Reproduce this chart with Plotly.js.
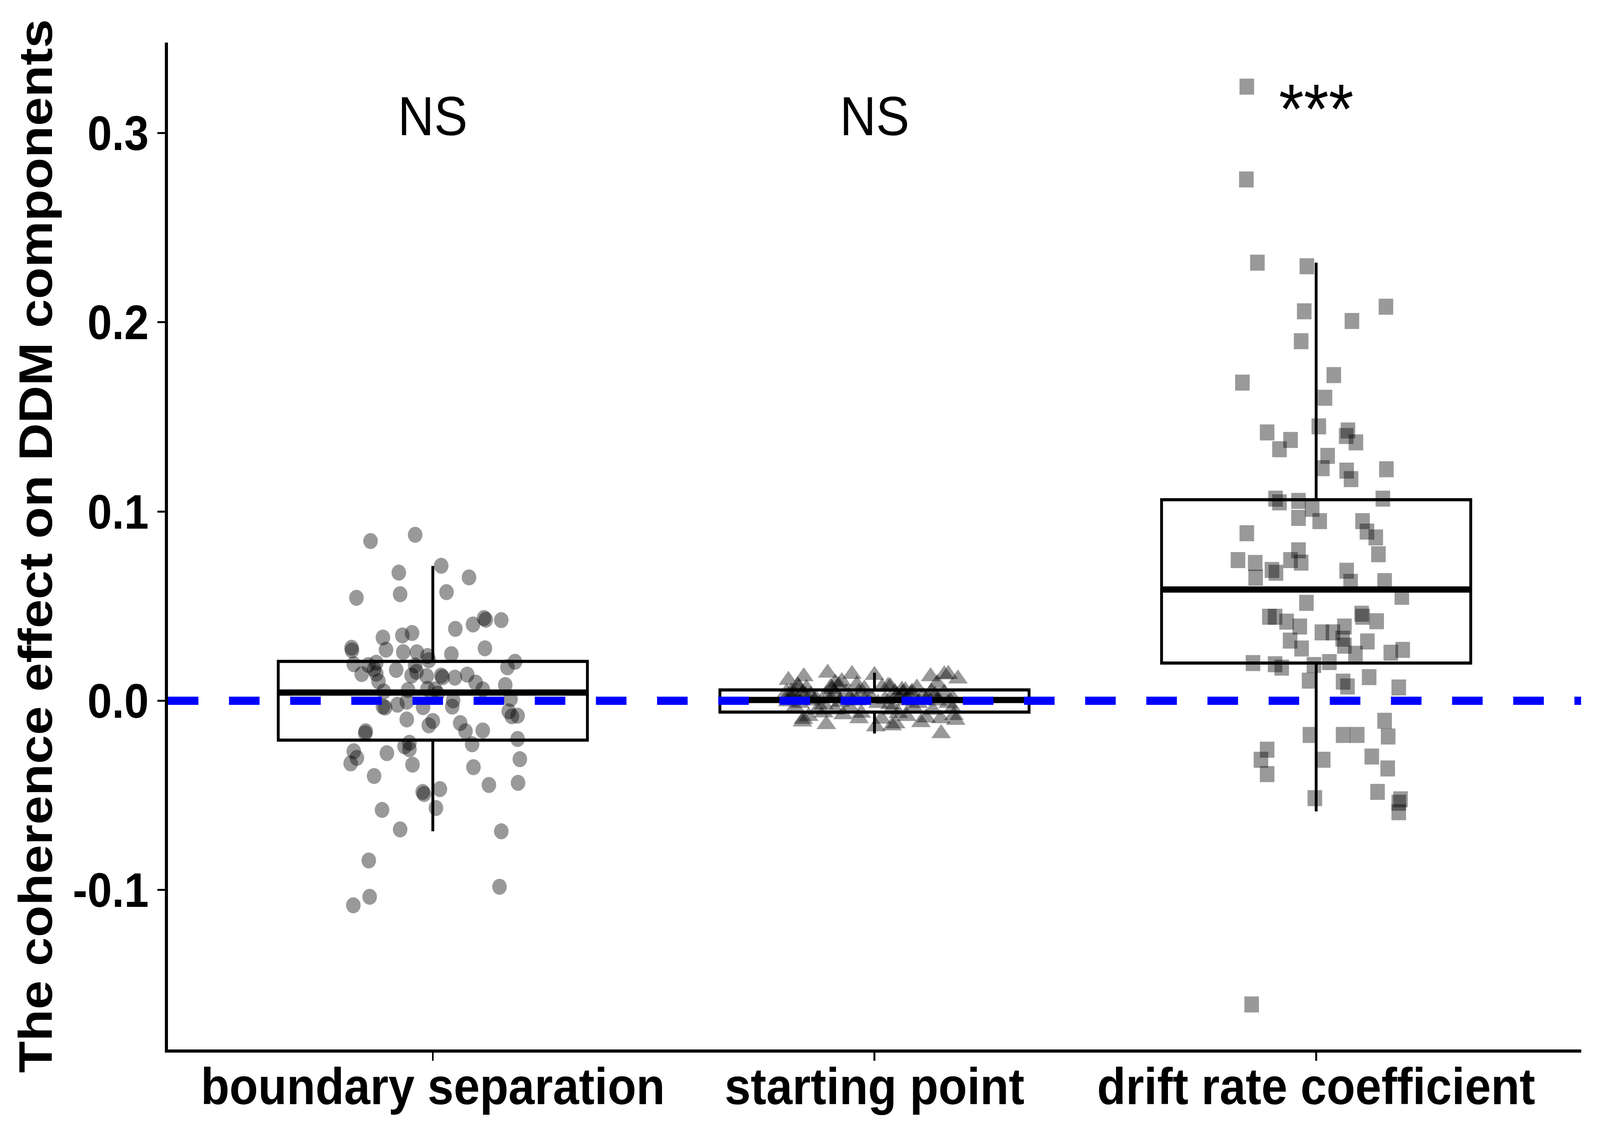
<!DOCTYPE html>
<html>
<head>
<meta charset="utf-8">
<script src="https://cdn.plot.ly/plotly-3.0.1.min.js"></script>
<style>
  html, body { margin: 0; padding: 0; background: #ffffff; overflow: hidden; }
  #chart { width: 4500px; height: 2910px; transform-origin: 0 0; }
</style>
</head>
<body>
<div id="chart"></div>
<script>
// ---------- data ----------
const categories = ["boundary separation", "starting point", "drift rate coefficient"];
const categoryPos = [1, 2, 3];

const yTickVals = [-0.1, 0.0, 0.1, 0.2, 0.3];
const yTickText = ["-0.1", "0.0", "0.1", "0.2", "0.3"];

// box statistics
const boxQ1     = [-0.0208, -0.0060, 0.0199];
const boxMedian = [ 0.0043,  0.0004, 0.0588];
const boxQ3     = [ 0.0208,  0.0057, 0.1062];
const boxLower  = [-0.0690, -0.0173, -0.0585];
const boxUpper  = [ 0.0712,  0.0148, 0.2315];

// significance labels
const sigLabels = ["NS", "NS", "***"];

// jittered individual points: boundary separation
const boundaryX = [0.859,0.960,1.019,0.923,1.082,0.827,0.926,1.031,1.116,1.120,
  1.155,1.091,1.051,0.887,0.931,0.953,0.816,0.817,0.894,0.933,
  0.964,0.988,0.991,1.042,1.118,1.186,1.169,0.821,0.854,0.872,
  0.867,0.872,0.839,0.877,0.917,0.960,0.963,0.952,0.986,1.019,
  1.022,1.050,1.078,1.097,1.113,1.164,0.889,0.944,0.988,1.005,
  1.011,1.176,1.046,0.941,0.920,0.887,0.892,0.978,1.044,1.172,
  1.179,1.192,1.000,0.991,0.941,1.062,1.074,1.113,0.848,0.847,
  1.192,0.947,0.936,0.947,1.089,0.821,0.828,0.814,0.896,0.954,
  1.092,1.197,0.867,1.127,1.193,0.977,0.980,1.016,1.007,0.885,
  0.926,1.155,0.855,1.151,0.857,0.820];
const boundaryY = [0.0844,0.0877,0.0713,0.0677,0.0652,0.0544,0.0563,0.0574,0.0437,0.0428,
  0.0426,0.0403,0.0380,0.0334,0.0345,0.0358,0.0280,0.0266,0.0270,0.0257,
  0.0256,0.0237,0.0214,0.0246,0.0277,0.0206,0.0177,0.0193,0.0189,0.0201,
  0.0167,0.0143,0.0141,0.0102,0.0163,0.0186,0.0153,0.0133,0.0130,0.0133,
  0.0124,0.0122,0.0138,0.0096,0.0060,0.0083,0.0049,0.0057,0.0063,0.0060,
  0.0037,0.0009,0.0002,-0.0005,-0.0021,-0.0031,-0.0036,-0.0034,-0.0031,-0.0056,
  -0.0082,-0.0079,-0.0107,-0.0130,-0.0099,-0.0118,-0.0161,-0.0157,-0.0161,-0.0172,
  -0.0202,-0.0222,-0.0241,-0.0256,-0.0230,-0.0267,-0.0302,-0.0331,-0.0277,-0.0338,
  -0.0351,-0.0309,-0.0398,-0.0445,-0.0434,-0.0482,-0.0493,-0.0467,-0.0567,-0.0577,
  -0.0680,-0.0690,-0.0844,-0.0983,-0.1036,-0.1081];

// starting point
const startX = [1.805,1.840,1.894,1.949,2.000,2.127,1.826,1.829,1.846,1.911,
  1.926,1.960,1.977,2.017,2.031,2.036,2.062,2.070,2.085,2.096,
  2.142,1.801,1.811,1.817,1.836,1.901,1.905,1.919,1.936,1.965,
  2.046,2.064,2.083,2.110,2.129,2.137,1.868,1.856,1.890,1.993,
  1.837,1.839,1.891,1.929,1.965,2.003,2.040,2.048,2.105,2.117,
  2.151,1.885,1.804,1.851,2.054,2.132,1.970,1.820,2.016,2.073,
  1.871,1.911,1.944,1.831,1.863,1.901,1.922,1.960,1.981,2.024,
  2.035,2.070,2.099,2.142,2.158,2.167,2.189,2.177,2.184,2.180,
  2.167,2.158,2.177,2.150,2.038,1.815,1.885,1.944,2.008,2.086,
  2.121,1.844,1.911,2.051];
const startY = [0.0109,0.0128,0.0147,0.0140,0.0135,0.0128,0.0080,0.0071,0.0066,0.0095,
  0.0102,0.0085,0.0063,0.0071,0.0078,0.0075,0.0057,0.0054,0.0047,0.0068,
  0.0092,0.0044,0.0047,0.0044,0.0037,0.0071,0.0061,0.0082,0.0044,0.0047,
  0.0044,0.0040,0.0037,0.0023,0.0047,0.0030,0.0009,0.0030,0.0030,0.0016,
  -0.0111,-0.0097,-0.0125,-0.0073,-0.0094,-0.0137,-0.0132,-0.0121,-0.0115,-0.0090,
  -0.0173,-0.0063,-0.0005,-0.0082,-0.0066,-0.0049,-0.0065,-0.0034,-0.0096,-0.0082,
  -0.0048,-0.0048,-0.0034,-0.0013,0.0000,0.0014,-0.0007,0.0000,0.0014,0.0007,
  -0.0020,0.0000,-0.0013,0.0000,0.0138,0.0140,0.0116,0.0013,-0.0103,-0.0077,
  -0.0013,0.0042,-0.0041,-0.0094,-0.0049,0.0014,-0.0020,0.0014,-0.0013,-0.0027,
  0.0014,0.0028,0.0035,0.0028];

// drift rate coefficient
const driftX = [2.843,2.842,2.867,2.979,2.973,3.158,3.081,2.966,2.833,3.040,
  3.020,3.006,2.889,2.942,2.917,3.072,3.068,3.090,3.026,3.014,
  3.069,3.079,3.159,2.908,2.917,2.960,2.960,2.991,3.008,3.151,
  3.105,3.115,3.135,2.843,3.141,2.960,2.823,2.862,
  2.966,2.942,2.900,2.909,2.863,3.069,3.078,3.155,3.194,2.978,
  2.894,2.907,2.933,2.963,3.103,3.105,3.137,3.013,3.038,3.064,
  3.060,3.064,2.941,2.967,3.116,3.089,3.169,3.196,2.857,2.907,
  2.922,2.995,3.030,2.984,3.061,3.071,3.120,3.187,3.155,2.986,
  3.061,3.093,3.163,2.889,2.875,2.889,3.016,3.126,3.162,2.997,
  3.139,3.191,3.187,3.187,2.854];
const driftY = [0.3245,0.2755,0.2315,0.2296,0.2058,0.2082,0.2007,0.1900,0.1681,0.1721,
  0.1601,0.1450,0.1418,0.1378,0.1329,0.1428,0.1399,0.1365,0.1294,0.1229,
  0.1216,0.1171,0.1223,0.1068,0.1048,0.1056,0.0966,0.1014,0.0949,0.1068,
  0.0949,0.0894,0.0863,0.0885,0.0774,0.0795,0.0743,0.0728,
  0.0730,0.0743,0.0691,0.0676,0.0650,0.0687,0.0628,0.0632,0.0549,0.0517,
  0.0444,0.0444,0.0418,0.0392,0.0460,0.0444,0.0420,0.0361,0.0361,0.0392,
  0.0328,0.0291,0.0318,0.0276,0.0313,0.0248,0.0254,0.0269,0.0199,0.0193,
  0.0175,0.0189,0.0204,0.0106,0.0101,0.0075,0.0125,0.0070,-0.0106,-0.0181,
  -0.0181,-0.0181,-0.0189,-0.0259,-0.0312,-0.0388,-0.0312,-0.0295,-0.0358,-0.0515,
  -0.0482,-0.0521,-0.0539,-0.0589,-0.1605];

const referenceY = 0;

// ---------- styling ----------
const chartW = 4500, chartH = 2910;
const boxWidth = 0.7;
const pointColor = "rgba(0,0,0,0.4)";
const fontFamily = "Liberation Sans, Arial, Helvetica, sans-serif";

const medX = [], medY = [];
categoryPos.forEach((c, i) => {
  medX.push(c - boxWidth / 2, c + boxWidth / 2, null);
  medY.push(boxMedian[i], boxMedian[i], null);
});

const traces = [
  {
    type: "box",
    x: categoryPos,
    q1: boxQ1, median: boxMedian, q3: boxQ3,
    lowerfence: boxLower, upperfence: boxUpper,
    width: boxWidth,
    boxpoints: false,
    whiskerwidth: 0,
    fillcolor: "white",
    line: { color: "black", width: 8 },
    hoverinfo: "skip"
  },
  {
    type: "scatter", mode: "lines",
    x: medX, y: medY,
    line: { color: "black", width: 16 },
    hoverinfo: "skip"
  },
  {
    type: "scatter", mode: "markers",
    x: boundaryX, y: boundaryY,
    marker: { symbol: "circle", size: 41, color: pointColor, line: { width: 0 } }
  },
  {
    type: "scatter", mode: "markers",
    x: startX, y: startY,
    marker: { symbol: "triangle-up", size: 48, color: pointColor, line: { width: 0 } }
  },
  {
    type: "scatter", mode: "markers",
    x: driftX, y: driftY,
    marker: { symbol: "square", size: 41, color: pointColor, line: { width: 0 } }
  }
];

const annotations = categoryPos.map((c, i) => ({
  x: c, y: i === 2 ? 0.3127 : 0.3090,
  xref: "x", yref: "y",
  text: sigLabels[i],
  showarrow: false,
  xanchor: "center", yanchor: "middle",
  font: { family: fontFamily, size: i === 2 ? 180 : 141, color: "black" }
}));

const layout = {
  width: chartW, height: chartH,
  margin: { l: 472, r: 53, t: 109, b: 224, pad: 0 },
  paper_bgcolor: "white", plot_bgcolor: "white",
  showlegend: false,
  font: { family: fontFamily, color: "black" },
  xaxis: {
    range: [0.4, 3.6],
    tickvals: categoryPos, ticktext: categories,
    showline: true, linewidth: 8, linecolor: "black",
    ticks: "outside", ticklen: 21, tickwidth: 5, tickcolor: "black",
    showgrid: false, zeroline: false,
    ticklabelstandoff: -47,
    tickfont: { family: fontFamily, size: 132, color: "black", weight: "bold" },
    fixedrange: true
  },
  yaxis: {
    range: [-0.1843, 0.3478],
    tickvals: yTickVals, ticktext: yTickText,
    showline: true, linewidth: 8, linecolor: "black",
    ticks: "outside", ticklen: 21, tickwidth: 5, tickcolor: "black",
    showgrid: false, zeroline: false,
    ticklabelstandoff: 0,
    tickfont: { family: fontFamily, size: 124, color: "black", weight: "bold" },
    title: {
      text: "The coherence effect on DDM components",
      font: { family: fontFamily, size: 133, color: "black", weight: "bold" },
      standoff: 16
    },
    fixedrange: true
  },
  shapes: [{
    type: "line", xref: "x", yref: "y", layer: "above",
    x0: 0.4, x1: 3.6, y0: referenceY, y1: referenceY,
    line: { color: "#0000FF", width: 21, dash: "86px,86px" }
  }],
  annotations: annotations
};

// The viewport can be narrower than the 4500 px design width; squeeze the
// drawing horizontally so that the whole chart stays in the picture.
const chartDiv = document.getElementById("chart");
const sx = Math.min(1, window.innerWidth / chartW);
if (sx < 1) chartDiv.style.transform = "scaleX(" + sx + ")";

Plotly.newPlot(chartDiv, traces, layout, { staticPlot: true, displayModeBar: false });
</script>
</body>
</html>
